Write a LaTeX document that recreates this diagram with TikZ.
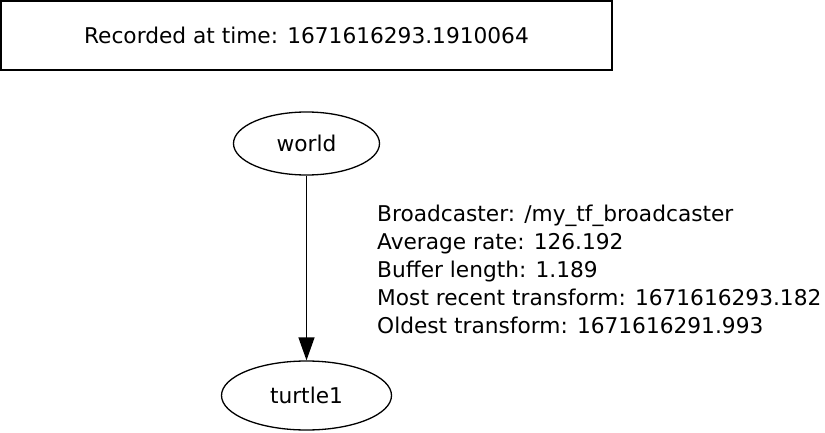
\documentclass[tikz,border=0pt]{standalone}
\usepackage{fontspec}
\setmainfont{DejaVu Sans}
\usetikzlibrary{shapes.geometric,arrows.meta}
\tikzset{
    frame/.style={draw,line width=1.3pt,minimum width=611pt,minimum height=69pt,inner sep=0pt},
    frameellipse/.style={draw,ellipse,line width=1.3pt,inner sep=0pt},
    info/.style={align=left,anchor=west,inner sep=0pt}
}
\begin{document}
\begin{tikzpicture}[x=1pt,y=1pt,font=\fontsize{21.7}{28}\selectfont]
    \useasboundingbox (0,0) rectangle (825,432);
    % time stamp
    \node[frame] (stamp) at (306.5,396.5) {Recorded at time: 1671616293.1910064};
    % frames
    \node[frameellipse,minimum width=146pt,minimum height=63pt] (world) at (306.5,288.5) {world};
    \node[frameellipse,minimum width=170pt,minimum height=69pt] (turtle) at (306.5,36.5) {turtle1};
    % transform
    \draw[line width=1.3pt,-{Triangle[length=23pt,width=16pt]}] (world) -- (turtle);
    \node[info] (broadcast) at (377,163) {Broadcaster: /my\_tf\_broadcaster\\
        Average rate: 126.192\\
        Buffer length: 1.189\\
        Most recent transform: 1671616293.182\\
        Oldest transform: 1671616291.993};
\end{tikzpicture}
\end{document}
